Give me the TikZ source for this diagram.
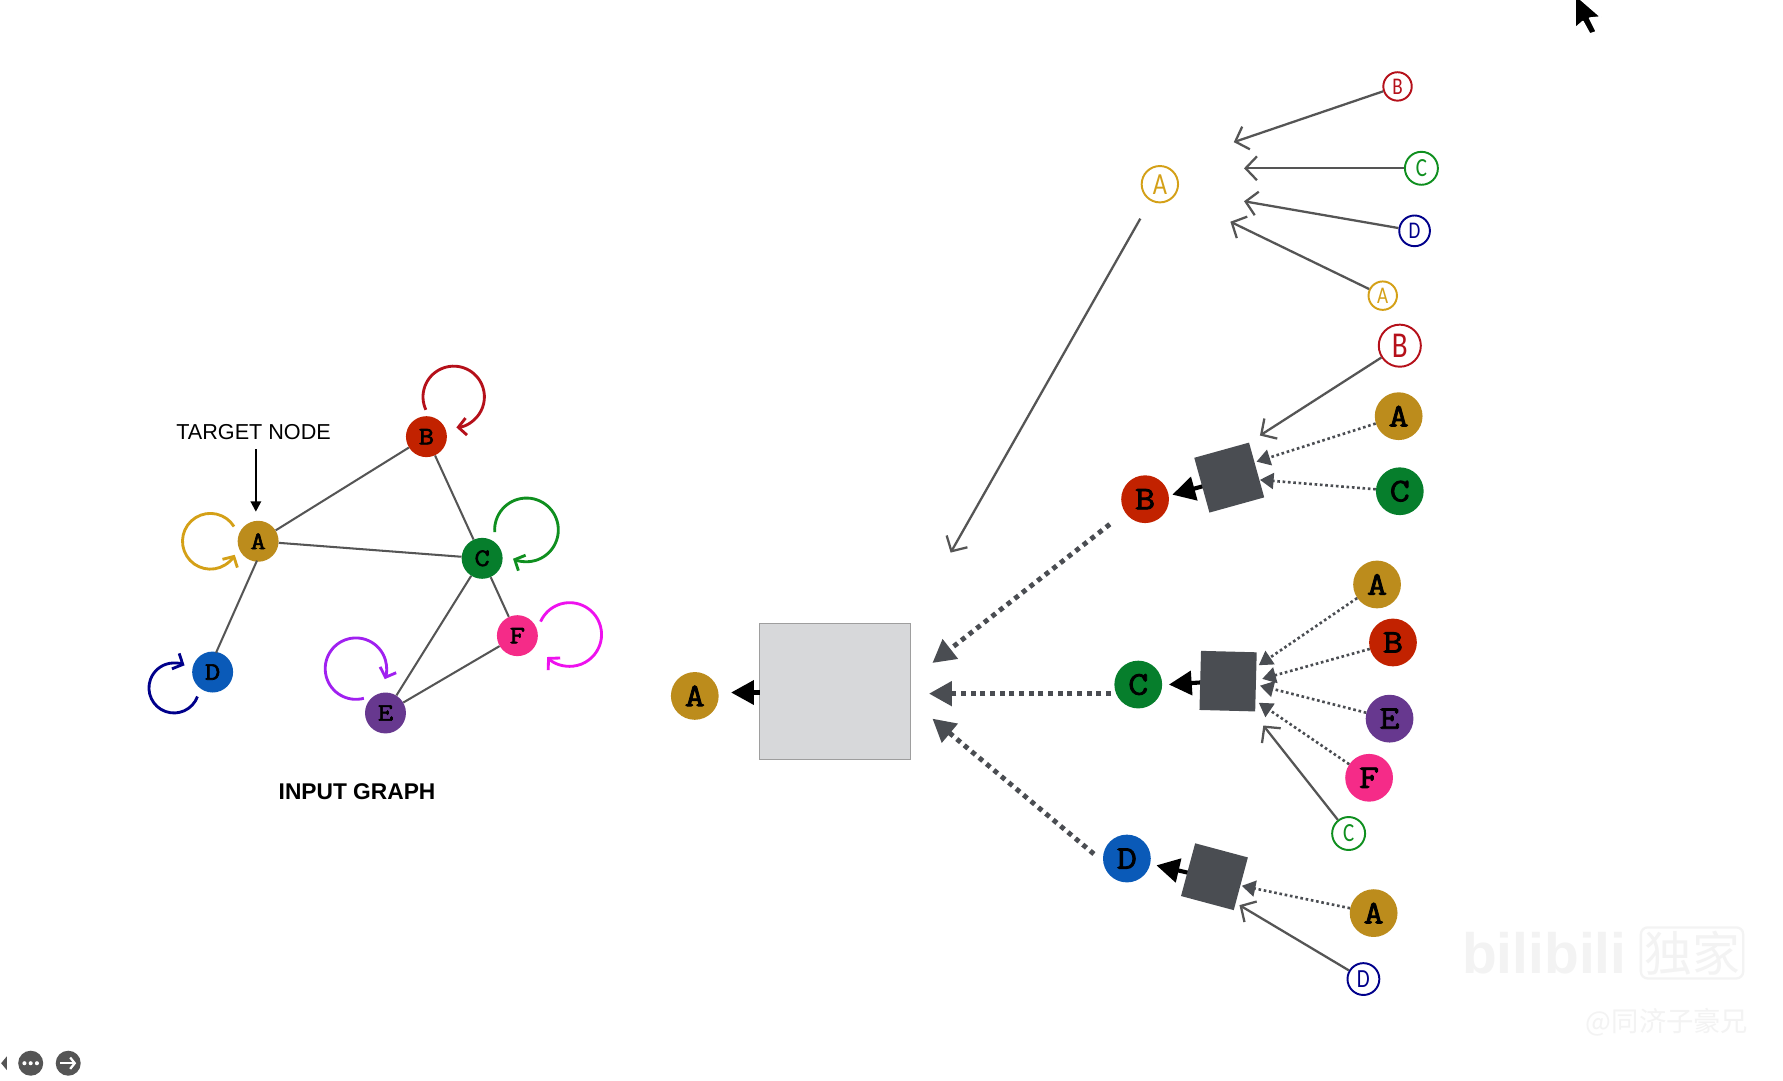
\documentclass[tikz,border=0pt]{standalone}
\usepackage{fontspec}
\setmainfont{Liberation Sans}
\newfontfamily\handfont[FakeStretch=0.8]{Carlito}
\newfontfamily\letterfont[FakeBold=2.5,FakeStretch=1.18]{Latin Modern Mono}
\newfontfamily\cjkfont{Noto Sans CJK SC}
\usetikzlibrary{arrows.meta,calc}
\definecolor{cA}{HTML}{BC8C1C}
\definecolor{cB}{HTML}{C22200}
\definecolor{cC}{HTML}{067E2C}
\definecolor{cD}{HTML}{0A5AB8}
\definecolor{cE}{HTML}{67388F}
\definecolor{cF}{HTML}{F52B88}
\definecolor{oA}{HTML}{D4A017}
\definecolor{oB}{HTML}{B5101A}
\definecolor{oC}{HTML}{0F8F1F}
\definecolor{oD}{HTML}{00008B}
\definecolor{oE}{HTML}{A020F0}
\definecolor{oF}{HTML}{EE11EE}
\definecolor{slateg}{HTML}{4A4D52}
\definecolor{edgeg}{HTML}{555555}
\definecolor{wm}{HTML}{F3F3F3}
\tikzset{
  x=1pt,y=-1pt,
  gnode/.style={circle,inner sep=0pt,minimum size=36pt,font=\letterfont\fontsize{22}{22}\selectfont},
  tnode/.style={circle,inner sep=0pt,minimum size=42pt,font=\letterfont\fontsize{29}{29}\selectfont},
  onode/.style={circle,inner sep=0pt,line width=1.7pt,fill=white,font=\handfont\fontsize{#1}{#1}\selectfont},
  aggbox/.style={fill=slateg,inner sep=0pt},
  edgeline/.style={draw=edgeg,line width=1.8pt},
  loopline/.style={line width=2.5pt,-{Straight Barb[length=7pt,width=15pt,line width=2.5pt]}},
  openarrow/.style={draw=edgeg,line width=2pt,-{Straight Barb[length=10pt,width=21pt,line width=2pt]}},
  dotsmall/.style={draw=slateg,line width=2.3pt,dash pattern=on 2.3pt off 2.4pt,-{Triangle[length=12pt,width=14pt,fill=slateg]}},
  dotbig/.style={draw=slateg,line width=4.3pt,dash pattern=on 4.3pt off 4.2pt,-{Triangle[length=20pt,width=21pt,fill=slateg]}},
  blackarrow/.style={draw=black,line width=3.6pt,-{Triangle[length=20pt,width=21pt]}},
}
\begin{document}
\begin{tikzpicture}
\useasboundingbox (0,0) rectangle (1568,950);
\fill[white] (0,0) rectangle (1568,950);

% ---- input graph
\node[gnode,fill=cA] (A) at (227,476) {A};
\node[gnode,fill=cB] (B) at (375,384) {B};
\node[gnode,fill=cC] (C) at (424,491) {C};
\node[gnode,fill=cD] (D) at (187,591) {D};
\node[gnode,fill=cE] (E) at (339,627) {E};
\node[gnode,fill=cF] (F) at (455,559) {F};
\foreach \u/\v in {A/B,A/C,B/C,C/E,C/F,E/F}
  \draw[edgeline] (\u) -- (\v);
\draw[edgeline] ([shift={(-1,17)}]A.center) -- ([shift={(3,-17)}]D.center);
\draw[loopline,oA] ([shift={(-42,0)}]A.center) ++(-32:24.5) arc[start angle=-32,end angle=-331,radius=24.5];
\draw[loopline,oB] ([shift={(24,-35)}]B.center) ++(155:27) arc[start angle=155,end angle=445,radius=27];
\draw[loopline,oC] ([shift={(39,-25)}]C.center) ++(176:28) arc[start angle=176,end angle=475,radius=28];
\draw[loopline,oD] ([shift={(-34,14)}]D.center) ++(20:22) arc[start angle=20,end angle=295,radius=22];
\draw[loopline,oE] ([shift={(-26,-39)}]E.center) ++(75:27) arc[start angle=75,end angle=380,radius=27];
\draw[loopline,oF] ([shift={(46,-1)}]F.center) ++(204:28) arc[start angle=204,end angle=495,radius=28];

\node[font=\fontsize{19}{19}\selectfont,inner sep=0pt] (target) at (223,380) {TARGET NODE};
\coordinate (targetfrom) at (225,395);
\coordinate (targetto) at (225,450);
\draw[line width=1.8pt,-{Triangle[length=9pt,width=9pt]}] (targetfrom) -- (targetto);
\node[font=\bfseries\fontsize{20}{20}\selectfont,inner sep=0pt] (title) at (314,696) {INPUT GRAPH};

% ---- level 0
\node[tnode,fill=cA] (rootA) at (611,612) {A};
\node[draw=black!38,line width=1pt,fill={rgb,255:red,215;green,216;blue,218},minimum width=133pt,minimum height=120pt,inner sep=0pt] (bigbox) at (734.5,608) {};
\coordinate (rootbox) at (668,609);
\coordinate (rootboxtip) at (643,609);
\draw[blackarrow] (rootbox) -- (rootboxtip);

% ---- level 1
\node[tnode,fill=cB] (lB) at (1007,439) {B};
\node[tnode,fill=cC] (lC) at (1001,602) {C};
\node[tnode,fill=cD] (lD) at (991,755) {D};
\coordinate (tipB) at (820,583);
\coordinate (tipC) at (817,610);
\coordinate (tipD) at (820,632);
\coordinate (fromC) at (977,610);
\coordinate (fromB) at (976,461);
\coordinate (fromD) at (962,751);
\draw[dotbig] (fromB) -- (tipB);
\draw[dotbig] (fromC) -- (tipC);
\draw[dotbig] (fromD) -- (tipD);

% ---- boxes
\coordinate (bkB) at (1060,427);
\coordinate (bkBt) at (1031,435);
\coordinate (bkC) at (1058,600);
\coordinate (bkCt) at (1028,602);
\coordinate (bkD) at (1047,768);
\coordinate (bkDt) at (1017,761);
\draw[blackarrow] (bkB) -- (bkBt);
\draw[blackarrow] (bkC) -- (bkCt);
\draw[blackarrow] (bkD) -- (bkDt);
\node[aggbox,minimum width=50pt,minimum height=50pt,rotate=15.5] (boxB) at (1081,420) {};
\node[aggbox,minimum width=49pt,minimum height=52pt,rotate=-1.5] (boxC) at (1080,599) {};
\node[aggbox,minimum width=48pt,minimum height=48pt,rotate=-15] (boxD) at (1068,771) {};

% ---- outlined A and its inputs
\node[onode=27,draw=oA,text=oA,minimum size=32pt] (oA1) at (1020,162) {A};
\node[onode=21,draw=oB,text=oB,minimum size=25pt] (oB1) at (1229,76) {B};
\node[onode=23,draw=oC,text=oC,minimum size=29pt] (oC1) at (1250,148) {C};
\node[onode=21,draw=oD,text=oD,minimum size=27pt] (oD1) at (1244,203) {D};
\node[onode=21,draw=oA,text=oA,minimum size=25pt] (oA2) at (1216,260) {A};
\coordinate (tipoB1) at (1085,125);
\coordinate (tipoC1) at (1094,148);
\coordinate (tipoD1) at (1094,177);
\coordinate (tipoA2) at (1082,195);
\draw[openarrow] (oB1) -- (tipoB1);
\draw[openarrow] (oC1) -- (tipoC1);
\draw[openarrow] (oD1) -- (tipoD1);
\draw[openarrow] (oA2) -- (tipoA2);
\coordinate (tipmain) at (836,486);
\draw[openarrow,shorten <=18pt] (oA1) -- (tipmain);

% ---- B group
\node[onode=32,draw=oB,text=oB,minimum size=37pt] (oB2) at (1231,304) {B};
\node[tnode,fill=cA] (bA) at (1230,366) {A};
\node[tnode,fill=cC] (bC) at (1231,432) {C};
\coordinate (tipoB2) at (1108,383);
\coordinate (tipbA) at (1105,406);
\coordinate (tipbC) at (1108,422);
\draw[openarrow] (oB2) -- (tipoB2);
\draw[dotsmall] (bA) -- (tipbA);
\draw[dotsmall] (bC) -- (tipbC);

% ---- C group
\node[tnode,fill=cA] (cgA) at (1211,514) {A};
\node[tnode,fill=cB] (cgB) at (1225,565) {B};
\node[tnode,fill=cE] (cgE) at (1222,632) {E};
\node[tnode,fill=cF] (cgF) at (1204,684) {F};
\node[onode=23,draw=oC,text=oC,minimum size=29pt] (oC2) at (1186,733) {C};
\coordinate (tipcA) at (1107,585);
\coordinate (tipcB) at (1110,597);
\coordinate (tipcE) at (1108,603);
\coordinate (tipcF) at (1107,618);
\coordinate (tipoC2) at (1111,638);
\draw[dotsmall] (cgA) -- (tipcA);
\draw[dotsmall] (cgB) -- (tipcB);
\draw[dotsmall] (cgE) -- (tipcE);
\draw[dotsmall] (cgF) -- (tipcF);
\draw[openarrow] (oC2) -- (tipoC2);

% ---- D group
\node[tnode,fill=cA] (dgA) at (1208,803) {A};
\node[onode=23,draw=oD,text=oD,minimum size=28pt] (oD2) at (1199,861) {D};
\coordinate (tipdA) at (1092,779);
\coordinate (tipoD2) at (1090,796);
\draw[dotsmall] (dgA) -- (tipdA);
\draw[openarrow] (oD2) -- (tipoD2);

% ---- cursor
\fill[black,draw=white,line width=1.5pt,line join=round]
  (1385,-5) -- (1408,15) -- (1398,16) -- (1404,28) -- (1398,30) -- (1392,19) -- (1385,25) -- cycle;

% ---- player controls
\fill[edgeg] (1,935) -- (6,929) -- (6,941) -- cycle;
\node[circle,fill=edgeg,minimum size=22pt,inner sep=0pt] (more) at (27,935) {};
\fill[white] (21.5,935) circle (1.8) (27,935) circle (1.8) (32.5,935) circle (1.8);
\node[circle,fill=edgeg,minimum size=22pt,inner sep=0pt] (next) at (60,935) {};
\draw[white,line width=2pt,-{Straight Barb[length=4pt,width=10pt,line width=2pt]}] (53,935) -- (67,935);

% ---- watermark
\node[text=wm,font=\bfseries\fontsize{50}{50}\selectfont,inner sep=0pt] (wmlogo) at (1358,838) {bilibili};
\node[draw=wm,line width=2pt,rounded corners=6pt,text=wm,font=\cjkfont\fontsize{42}{42}\selectfont,inner sep=3pt] (wmbox) at (1488,838) {独家};
\node[text=wm,font=\cjkfont\fontsize{24}{24}\selectfont,inner sep=0pt] (wmname) at (1466,899) {@同济子豪兄};
\end{tikzpicture}
\end{document}
